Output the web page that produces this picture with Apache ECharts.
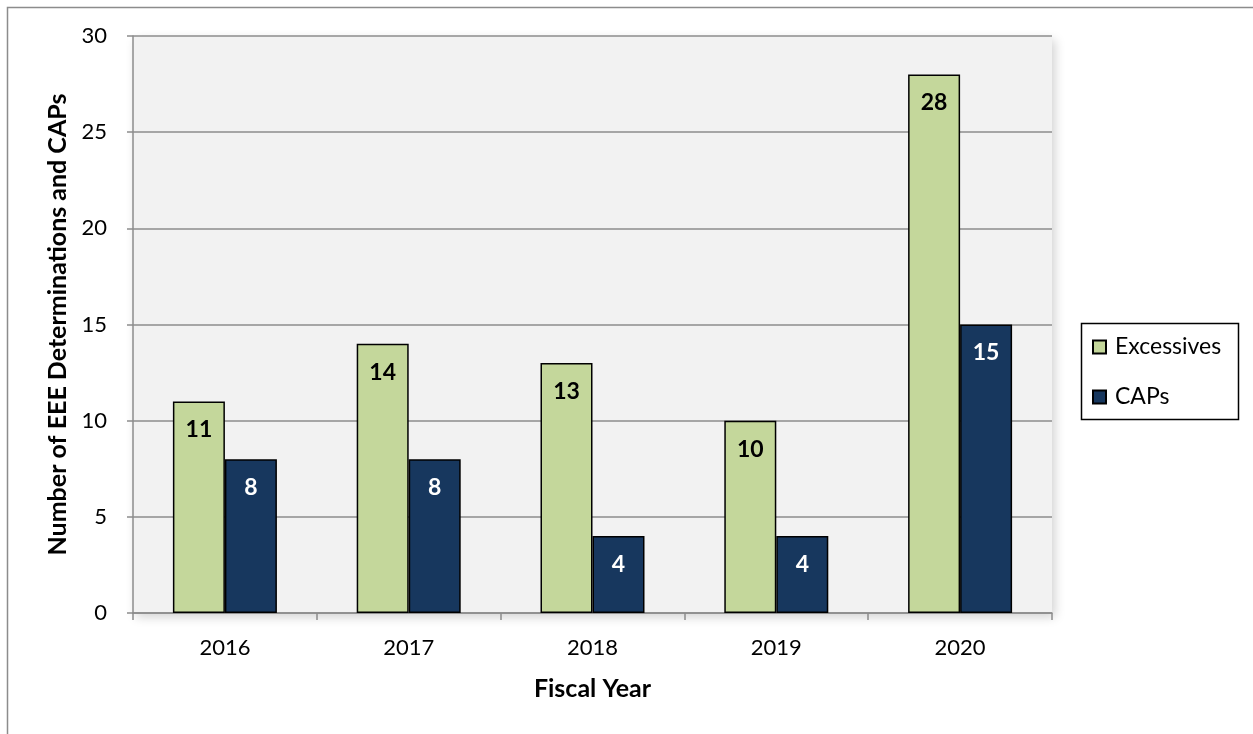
<!DOCTYPE html>
<html>
<head>
<meta charset="utf-8">
<script src="https://cdn.jsdelivr.net/npm/echarts@6/dist/echarts.min.js"></script>
<style>
  html, body { margin: 0; padding: 0; background: #fff; }
  #chart { width: 1253px; height: 734px; }
</style>
</head>
<body>
<div id="chart"></div>
<script>
  const years = ["2016", "2017", "2018", "2019", "2020"];
  const excessives = [11, 14, 13, 10, 28];
  const caps = [8, 8, 4, 4, 15];
  const yTicks = { min: 0, max: 30, step: 5 };

  const font = "Lato";
  const chart = echarts.init(document.getElementById("chart"), null, { renderer: "canvas" });

  const option = {
    animation: false,
    textStyle: { fontFamily: font },
    graphic: [
      // outer chart frame
      {
        type: "rect",
        shape: { x: 7.5, y: 7.5, width: 1260, height: 760 },
        style: { fill: "none", stroke: "#8c8c8c", lineWidth: 1.5 },
        z: -10,
      },
      // legend frame
      {
        type: "rect",
        shape: { x: 1081.5, y: 323.5, width: 157, height: 96 },
        style: { fill: "#fff", stroke: "#000", lineWidth: 1.5 },
        z: 1,
      },
    ],
    grid: {
      left: 133,
      right: 201,
      top: 36,
      bottom: 121,
      show: true,
      backgroundColor: "#f2f2f2",
      borderWidth: 0,
      shadowBlur: 10,
      shadowColor: "rgba(0,0,0,0.18)",
      shadowOffsetX: 3,
      shadowOffsetY: 4,
    },
    legend: {
      orient: "vertical",
      left: 1092,
      top: 334,
      padding: 0,
      itemWidth: 13,
      itemHeight: 13,
      itemGap: 24,
      icon: "rect",
      z: 5,
      textStyle: { fontFamily: font, fontSize: 23, color: "#000", lineHeight: 26, padding: [0, 0, 0, 4] },
      data: ["Excessives", "CAPs"],
    },
    xAxis: {
      type: "category",
      data: years,
      name: "Fiscal Year",
      nameLocation: "middle",
      nameGap: 63,
      nameTextStyle: { fontFamily: font, fontSize: 25, fontWeight: "bold", color: "#000" },
      axisLine: { lineStyle: { color: "#8c8c8c", width: 1.5 } },
      axisTick: { show: true, length: 7, lineStyle: { color: "#8c8c8c", width: 1.5 } },
      axisLabel: { fontFamily: font, fontSize: 22, color: "#000", margin: 24 },
    },
    yAxis: {
      type: "value",
      min: yTicks.min,
      max: yTicks.max,
      interval: yTicks.step,
      name: "Number of EEE Determinations and CAPs",
      nameLocation: "middle",
      nameGap: 60,
      nameTextStyle: { fontFamily: font, fontSize: 25, fontWeight: "bold", color: "#000" },
      axisLine: { show: true, lineStyle: { color: "#8c8c8c", width: 1.5 } },
      axisTick: { show: true, length: 6, lineStyle: { color: "#8c8c8c", width: 1.5 } },
      axisLabel: { fontFamily: font, fontSize: 22, color: "#000", margin: 26 },
      splitLine: { lineStyle: { color: "#8c8c8c", width: 1.5 } },
    },
    series: [
      {
        name: "Excessives",
        type: "bar",
        data: excessives,
        barWidth: 52,
        barGap: "0%",
        itemStyle: { color: "#c4d79b", borderColor: "#000", borderWidth: 1.5 },
        label: {
          show: true,
          position: "insideTop",
          distance: 17,
          fontFamily: font,
          fontSize: 23,
          fontWeight: "bold",
          color: "#000",
        },
      },
      {
        name: "CAPs",
        type: "bar",
        data: caps,
        barWidth: 52,
        itemStyle: { color: "#17375e", borderColor: "#000", borderWidth: 1.5 },
        label: {
          show: true,
          position: "insideTop",
          distance: 17,
          fontFamily: font,
          fontSize: 23,
          fontWeight: "bold",
          color: "#fff",
        },
      },
    ],
  };

  chart.setOption(option);
</script>
</body>
</html>
